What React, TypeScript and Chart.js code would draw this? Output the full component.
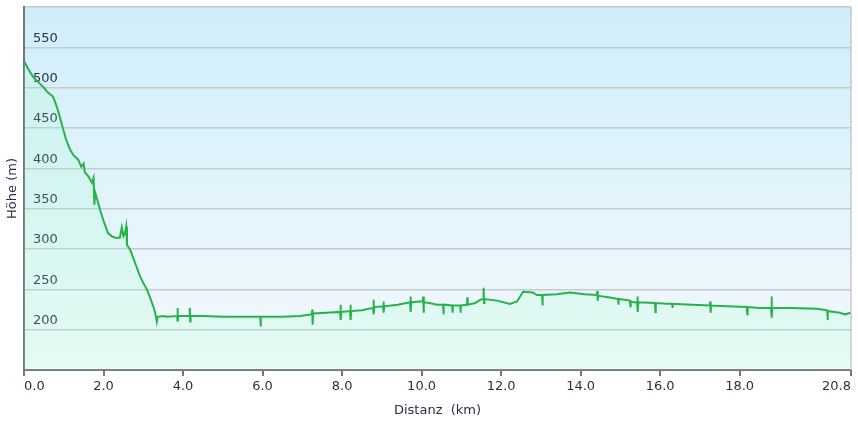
import { useEffect, useRef } from 'react';
import { Chart, registerables } from 'chart.js';

Chart.register(...registerables);

// Distance along the route (km)
const distanceKm = [
  0.0, 0.12, 0.25, 0.4, 0.5, 0.58, 0.73, 0.83, 0.95, 1.05,
  1.16, 1.25, 1.36, 1.44, 1.5, 1.53, 1.62, 1.71, 1.75, 1.77,
  1.79, 1.85, 1.91, 2.0, 2.11, 2.2, 2.29, 2.41, 2.46, 2.5,
  2.54, 2.57, 2.59, 2.67, 2.8, 2.92, 3.0, 3.09, 3.17, 3.25,
  3.3, 3.34, 3.36, 3.5, 3.6, 3.85, 3.86, 3.87, 3.88, 4.16,
  4.17, 4.18, 4.19, 4.5, 5.0, 5.5, 5.94, 5.95, 5.96, 6.5,
  6.94, 7.24, 7.25, 7.26, 7.27, 7.6, 7.95, 7.96, 7.97, 7.98,
  8.2, 8.21, 8.22, 8.23, 8.5, 8.78, 8.79, 8.8, 8.81, 9.03,
  9.04, 9.05, 9.06, 9.4, 9.71, 9.72, 9.73, 9.74, 9.96, 10.03,
  10.04, 10.05, 10.06, 10.2, 10.39, 10.54, 10.55, 10.56, 10.77, 10.78,
  10.79, 10.97, 10.98, 10.99, 11.14, 11.15, 11.16, 11.35, 11.47, 11.55,
  11.56, 11.57, 11.58, 11.9, 12.22, 12.4, 12.55, 12.8, 12.9, 13.03,
  13.04, 13.05, 13.4, 13.73, 14.1, 14.41, 14.42, 14.43, 14.44, 14.74,
  14.94, 14.95, 14.96, 15.24, 15.25, 15.26, 15.32, 15.42, 15.43, 15.44,
  15.45, 15.87, 15.88, 15.89, 16.17, 16.3, 16.31, 16.32, 16.8, 17.25,
  17.26, 17.27, 17.28, 17.7, 18.18, 18.19, 18.2, 18.5, 18.79, 18.8,
  18.81, 18.82, 19.3, 19.94, 20.2, 20.21, 20.22, 20.52, 20.65, 20.8,
];

// Elevation (m)
const elevationM = [
  533, 522, 512, 505, 500, 495, 489, 476, 455, 437,
  423, 416, 411, 402, 406, 395, 390, 382, 388, 355,
  370, 360, 349, 335, 320, 316, 314, 314, 327, 316,
  320, 328, 305, 299, 282, 266, 258, 250, 240, 229,
  221, 210, 216, 217, 216, 217, 227, 210, 217, 217,
  227, 210, 217, 217, 216, 216, 216, 204, 216, 216,
  217, 219, 225, 206, 220, 221, 222, 231, 212, 222,
  223, 231, 212, 223, 224, 227, 237, 219, 228, 229,
  235, 221, 229, 231, 234, 241, 222, 234, 235, 235,
  241, 221, 234, 233, 231, 231, 219, 231, 230, 221,
  230, 230, 221, 230, 231, 240, 231, 233, 237, 238,
  252, 233, 238, 236, 232, 235, 247, 246, 243, 243,
  230, 243, 244, 246, 244, 243, 248, 236, 242, 240,
  238, 231, 238, 236, 229, 235, 234, 234, 241, 222,
  234, 233, 222, 233, 232, 232, 227, 232, 231, 230,
  235, 221, 230, 229, 228, 219, 228, 227, 227, 241,
  215, 227, 227, 226, 224, 212, 223, 221, 219, 221,
];

const xTickValues = [0, 2, 4, 6, 8, 10, 12, 14, 16, 18, 20.8];
const yTickValues = [150, 200, 250, 300, 350, 400, 450, 500, 550, 600];

const TEXT = '#2e2e48';
const AXIS = '#777777';
const GRID = '#c4cacd';
const FONT = 'DejaVu Sans, Verdana, sans-serif';

const bgPlugin = {
  id: 'bgPlugin',
  beforeDraw(chart: any) {
    const { ctx, chartArea } = chart;
    const { left, top, right, bottom } = chartArea;
    const g = ctx.createLinearGradient(0, top, 0, bottom);
    g.addColorStop(0, '#cfeefa');
    g.addColorStop(1, '#f4f9fd');
    ctx.save();
    ctx.fillStyle = g;
    ctx.fillRect(left, top, right - left, bottom - top);
    ctx.restore();
  },
  afterDatasetsDraw(chart: any) {
    const { ctx, chartArea } = chart;
    const { top, right, bottom } = chartArea;
    ctx.save();
    ctx.strokeStyle = '#c8c8c8';
    ctx.lineWidth = 1.5;
    ctx.beginPath();
    ctx.moveTo(right, top);
    ctx.lineTo(right, bottom);
    ctx.stroke();
    ctx.restore();
  },
};

export default function App() {
  const ref = useRef<HTMLCanvasElement | null>(null);

  useEffect(() => {
    if (!ref.current) return;
    const data = distanceKm.map((x, i) => ({ x, y: elevationM[i] }));
    const chart = new Chart(ref.current, {
      type: 'line',
      data: {
        datasets: [
          {
            data,
            borderColor: '#27b24a',
            borderWidth: 2,
            backgroundColor: 'rgba(150, 255, 190, 0.16)',
            fill: 'start',
            pointRadius: 0,
            tension: 0,
          },
        ],
      },
      options: {
        animation: false,
        responsive: true,
        maintainAspectRatio: false,
        layout: { padding: { top: 7, right: 7, left: 0, bottom: 0 } },
        plugins: {
          legend: { display: false },
          tooltip: { enabled: false },
        },
        scales: {
          x: {
            type: 'linear',
            min: 0,
            max: 20.8,
            afterBuildTicks: (s: any) => {
              s.ticks = xTickValues.map((v) => ({ value: v }));
            },
            afterFit: (s: any) => {
              s.height = 57;
            },
            ticks: {
              autoSkip: false,
              maxRotation: 0,
              align: 'inner',
              padding: 3,
              color: TEXT,
              font: { family: FONT, size: 13 },
              callback: (v: any) => Number(v).toFixed(1),
            },
            grid: {
              drawOnChartArea: false,
              drawTicks: true,
              tickLength: 6,
              color: AXIS,
              lineWidth: 2,
            },
            border: { color: AXIS, width: 2 },
            title: {
              display: true,
              text: 'Distanz  (km)',
              color: TEXT,
              font: { family: FONT, size: 13 },
              padding: { top: 0, bottom: 9 },
            },
          },
          y: {
            type: 'linear',
            min: 150,
            max: 600,
            afterBuildTicks: (s: any) => {
              s.ticks = yTickValues.map((v) => ({ value: v }));
            },
            afterFit: (s: any) => {
              s.width = 24;
              s.paddingTop = 0;
              s.paddingBottom = 0;
            },
            ticks: {
              mirror: true,
              padding: 9,
              labelOffset: -9,
              color: TEXT,
              font: { family: FONT, size: 13 },
              callback: (v: any) => (v === 150 || v === 600 ? '' : String(v)),
            },
            grid: {
              drawTicks: false,
              lineWidth: 1.5,
              color: (c: any) => (c.tick && c.tick.value === 150 ? 'rgba(0,0,0,0)' : GRID),
            },
            border: { color: AXIS, width: 2 },
            title: {
              display: true,
              text: 'Höhe (m)',
              color: TEXT,
              font: { family: FONT, size: 13 },
              padding: { top: 5, bottom: 0 },
            },
          },
        },
      },
      plugins: [bgPlugin],
    } as any);
    return () => chart.destroy();
  }, []);

  return (
    <div style={{ position: 'absolute', left: 0, top: 0, width: 858, height: 427, background: '#ffffff' }}>
      <canvas ref={ref} />
    </div>
  );
}
